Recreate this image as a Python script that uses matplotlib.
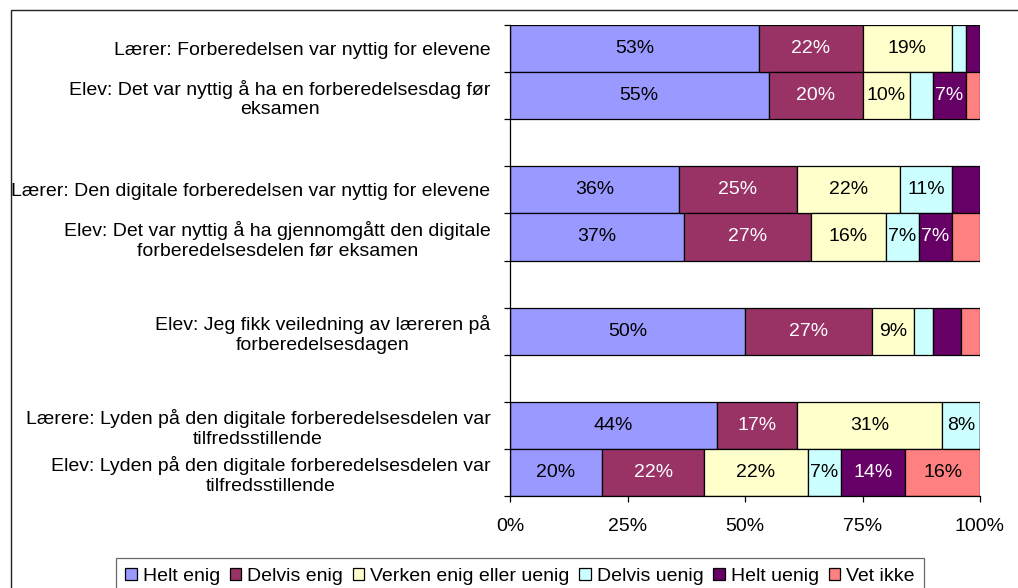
import matplotlib

matplotlib.use("Agg")
import matplotlib.pyplot as plt
from matplotlib.patches import Rectangle
import numpy as np


categories = [
    "Lærer: Forberedelsen var nyttig for elevene",
    "Elev: Det var nyttig å ha en forberedelsesdag før\neksamen",
    "Lærer: Den digitale forberedelsen var nyttig for elevene",
    "Elev: Det var nyttig å ha gjennomgått den digitale\nforberedelsesdelen før eksamen",
    "Elev: Jeg fikk veiledning av læreren på\nforberedelsesdagen",
    "Lærere: Lyden på den digitale forberedelsesdelen var\ntilfredsstillende",
    "Elev: Lyden på den digitale forberedelsesdelen var\ntilfredsstillende",
]
# slot of each category, blank slots separate the groups
slots = [0, 1, 3, 4, 6, 8, 9]

series_names = ["Helt enig", "Delvis enig", "Verken enig eller uenig",
                "Delvis uenig", "Helt uenig", "Vet ikke"]
helt_enig = [53, 55, 36, 37, 50, 44, 19.6]
delvis_enig = [22, 20, 25, 27, 27, 17, 21.7]
verken = [19, 10, 22, 16, 9, 31, 22.1]
delvis_uenig = [3, 5, 11, 7, 4, 8, 7.0]
helt_uenig = [3, 7, 6, 7, 6, 0, 13.7]
vet_ikke = [0, 3, 0, 6, 4, 0, 15.9]

colors = ["#9999FF", "#993366", "#FFFFCC", "#CCFFFF", "#660066", "#FF8080"]
label_colors = ["black", "white", "black", "black", "white", "black"]

plt.rcParams["font.family"] = ["Liberation Sans", "DejaVu Sans"]
FS = 14

fig = plt.figure(figsize=(10.18, 5.88), dpi=100)
ax = fig.add_axes([510 / 1018, 92 / 588, 470 / 1018, 471 / 588])

all_series = [helt_enig, delvis_enig, verken, delvis_uenig, helt_uenig, vet_ikke]
left = np.zeros(len(categories))
for name, vals, col, tcol in zip(series_names, all_series, colors, label_colors):
    vals = np.array(vals, dtype=float) / 100
    ax.barh(slots, vals, left=left, height=1.0, color=col,
            edgecolor="black", linewidth=0.9, label=name)
    for y, l, v in zip(slots, left, vals):
        if v >= 0.065:
            ax.text(l + v / 2, y, f"{round(v * 100):.0f}%", ha="center",
                    va="center", fontsize=FS, color=tcol)
    left += vals

ax.set_xlim(0, 1)
ax.set_ylim(9.5, -0.5)

ax.set_xticks([0, 0.25, 0.5, 0.75, 1.0])
ax.set_xticklabels(["0%", "25%", "50%", "75%", "100%"], fontsize=FS)
ax.tick_params(axis="x", direction="out", length=4.5, width=0.9, pad=11)

ax.set_yticks(np.arange(-0.5, 10, 1))
ax.set_yticklabels([])
ax.set_yticks(slots, minor=True)
ax.set_yticklabels(categories, minor=True, fontsize=FS, multialignment="center",
                   linespacing=1.2)
ax.tick_params(axis="y", which="major", direction="out", length=4.5, width=0.9)
ax.tick_params(axis="y", which="minor", length=0, pad=14)

for side in ["top", "right"]:
    ax.spines[side].set_visible(False)
for side in ["left", "bottom"]:
    ax.spines[side].set_linewidth(0.9)

leg = fig.legend(loc="upper center", bbox_to_anchor=(520 / 1018, 1 - 558 / 588),
                 ncol=6, fontsize=FS, frameon=True, fancybox=False,
                 handlelength=0.6, handleheight=0.6, handletextpad=0.3,
                 columnspacing=0.5, borderpad=0.5, borderaxespad=0)
leg.get_frame().set_edgecolor("#444444")
leg.get_frame().set_linewidth(0.9)

fig.patches.append(Rectangle((10.5 / 1018, -0.1), 1.2, 1.1 - 10.5 / 588,
                             transform=fig.transFigure, fill=False,
                             edgecolor="#222222", linewidth=1.0))

fig.savefig("out.png", dpi=100)
